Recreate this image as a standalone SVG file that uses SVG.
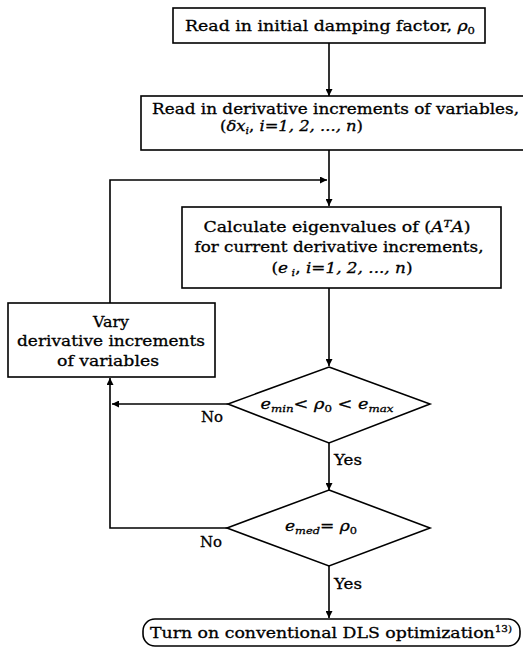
<svg xmlns="http://www.w3.org/2000/svg" width="523" height="652" viewBox="0 0 523 652">
<style>
.box{fill:#fff;stroke:#000;stroke-width:1.6}
.ln{fill:none;stroke:#000;stroke-width:1.6}
text{font-family:"DejaVu Serif","Liberation Serif",serif;font-size:15px;fill:#000;stroke:#000;stroke-width:0.3}
.it{font-style:italic}
.mid{text-anchor:middle}
</style>
<defs>
<marker id="ah" viewBox="0 0 10 10" refX="10" refY="5" markerWidth="7" markerHeight="7" markerUnits="userSpaceOnUse" orient="auto">
<path d="M0,0 L10,5 L0,10 z" fill="#000"/>
</marker>
</defs>
<rect width="523" height="652" fill="#fff"/>
<g id="connectors">
<path class="ln" d="M329,43 V96" marker-end="url(#ah)"/>
<path class="ln" d="M329,150 V206" marker-end="url(#ah)"/>
<path class="ln" d="M110,303 V180 H327" marker-end="url(#ah)"/>
<path class="ln" d="M329,288 V366" marker-end="url(#ah)"/>
<path class="ln" d="M228,404 H112" marker-end="url(#ah)"/>
<path class="ln" d="M227,528 H110 V378" marker-end="url(#ah)"/>
<path class="ln" d="M329,443 V490" marker-end="url(#ah)"/>
<path class="ln" d="M329,566 V618" marker-end="url(#ah)"/>
<text x="201" y="422" textLength="22" lengthAdjust="spacingAndGlyphs">No</text>
<text x="334" y="465" textLength="28" lengthAdjust="spacingAndGlyphs">Yes</text>
<text x="200" y="547" textLength="22" lengthAdjust="spacingAndGlyphs">No</text>
<text x="334" y="589" textLength="28" lengthAdjust="spacingAndGlyphs">Yes</text>
</g>
<g id="read-damping">
<rect class="box" x="173" y="8" width="312" height="35"/>
<text x="330" y="31" class="mid" textLength="290" lengthAdjust="spacingAndGlyphs">Read in initial damping factor, <tspan class="it">ρ</tspan><tspan font-size="10" dy="3">0</tspan></text>
</g>
<g id="read-increments">
<rect class="box" x="141" y="96" width="392" height="54"/>
<text x="152" y="114" textLength="367" lengthAdjust="spacingAndGlyphs">Read in derivative increments of variables,</text>
<text x="220" y="131" textLength="143" lengthAdjust="spacingAndGlyphs">(<tspan class="it">δx</tspan><tspan class="it" font-size="10" dy="3">i</tspan><tspan dy="-3">, </tspan><tspan class="it">i=1, 2, ..., n</tspan>)</text>
</g>
<g id="calc-eigen">
<rect class="box" x="182" y="207" width="319" height="81"/>
<text x="337" y="232" class="mid" textLength="267" lengthAdjust="spacingAndGlyphs">Calculate eigenvalues of (<tspan class="it">A</tspan><tspan class="it" font-size="10" dy="-5">T</tspan><tspan class="it" dy="5">A</tspan>)</text>
<text x="339" y="252" class="mid" textLength="289" lengthAdjust="spacingAndGlyphs">for current derivative increments,</text>
<text x="342" y="273" class="mid" textLength="141" lengthAdjust="spacingAndGlyphs">(<tspan class="it">e</tspan><tspan class="it" font-size="10" dy="3"> i</tspan><tspan dy="-3">, </tspan><tspan class="it">i=1, 2, ..., n</tspan>)</text>
</g>
<g id="vary">
<rect class="box" x="8" y="303" width="207" height="74"/>
<text x="111" y="327" class="mid" textLength="36" lengthAdjust="spacingAndGlyphs">Vary</text>
<text x="111" y="346" class="mid" textLength="188" lengthAdjust="spacingAndGlyphs">derivative increments</text>
<text x="108" y="366" class="mid" textLength="102" lengthAdjust="spacingAndGlyphs">of variables</text>
</g>
<g id="decision-range">
<polygon class="box" points="329,367 430,404 329,443 228,404"/>
<text x="327" y="409" class="mid" textLength="133" lengthAdjust="spacingAndGlyphs"><tspan class="it">e</tspan><tspan class="it" font-size="10" dy="3">min</tspan><tspan dy="-3">&lt; </tspan><tspan class="it">ρ</tspan><tspan font-size="10" dy="3">0</tspan><tspan dy="-3"> &lt; </tspan><tspan class="it">e</tspan><tspan class="it" font-size="10" dy="3">max</tspan></text>
</g>
<g id="decision-median">
<polygon class="box" points="329,490 430,528 329,566 227,528"/>
<text x="321" y="531" class="mid" textLength="72" lengthAdjust="spacingAndGlyphs"><tspan class="it">e</tspan><tspan class="it" font-size="10" dy="3">med</tspan><tspan dy="-3">= </tspan><tspan class="it">ρ</tspan><tspan font-size="10" dy="3">0</tspan></text>
</g>
<g id="turn-on-dls">
<rect class="box" x="143" y="619" width="377" height="27" rx="12" ry="12"/>
<text x="150" y="638" textLength="362" lengthAdjust="spacingAndGlyphs">Turn on conventional DLS optimization<tspan font-size="9" dy="-6">13)</tspan></text>
</g>
</svg>
